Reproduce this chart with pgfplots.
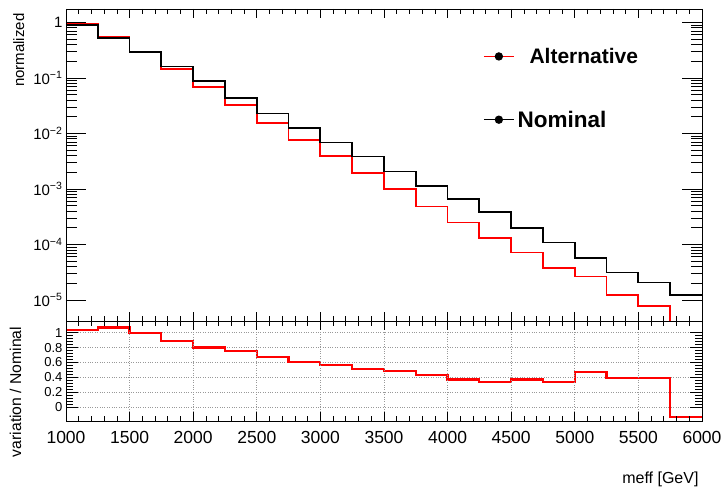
\documentclass[border=0pt]{standalone}
\usepackage{fontspec}
\setmainfont{Liberation Sans}
\usepackage{pgfplots}
\pgfplotsset{compat=1.18}
\pgfplotstableread{
x nom alt
1000 0.90 0.93
1250 0.52 0.556
1500 0.288 0.288
1750 0.161 0.143
2000 0.0865 0.0692
2250 0.0435 0.0326
2500 0.0229 0.0154
2750 0.0125 0.0076
3000 0.00689 0.00386
3250 0.00385 0.00196
3500 0.00207 0.00101
3750 0.00114 0.000484
4000 0.000658 0.000249
4250 0.000388 0.000132
4500 0.0002 0.000072
4750 0.000109 0.0000375
5000 0.0000569 0.0000265
5250 0.0000313 0.0000124
5500 0.0000207 0.00000786
5750 0.0000124 0.000000001
6000 0.0000124 0.000000001
}\histtable
\pgfplotstableread{
x ratio
1000 1.036
1250 1.07
1500 1.0
1750 0.89
2000 0.80
2250 0.75
2500 0.67
2750 0.61
3000 0.56
3250 0.51
3500 0.48
3750 0.43
4000 0.37
4250 0.34
4500 0.37
4750 0.34
5000 0.47
5250 0.39
5500 0.39
5750 -0.13
6000 -0.13
}\ratiotable
\begin{document}
\begin{tikzpicture}
\path[use as bounding box] (0pt,0pt) rectangle (724pt,489pt);
% top panel: y ticks and data
\begin{axis}[
  at={(66pt,168pt)}, anchor=south west,
  scale only axis, width=636pt, height=312pt,
  xmin=1000, xmax=6000, ymode=log, ymin=4.19e-6, ymax=1.74,
  tick align=inside, axis line style={line width=0.8pt},
  every tick/.style={black, line width=0.7pt},
  xtick=\empty,
  ytick={1e-5,1e-4,1e-3,1e-2,1e-1,1},
  yticklabels={10\textsuperscript{−5},10\textsuperscript{−4},10\textsuperscript{−3},10\textsuperscript{−2},10\textsuperscript{−1},1},
  yticklabel style={font=\fontsize{15}{18}\selectfont},
  major tick length=20pt, minor tick length=11pt,
  legend image code/.code={\draw[mark repeat=2,mark phase=2,#1] plot coordinates {(0pt,0pt) (15pt,0pt) (30pt,0pt)};},
  legend style={draw=none, fill=none, at={(rel axis cs:0.6557,0.885)}, anchor=north west,
    inner sep=0pt, row sep=40pt, nodes={inner sep=3pt},
    font=\bfseries\fontsize{21}{24}\selectfont},
  legend cell align=left,
]
\addlegendimage{red, line width=1.3pt, mark=*, mark size=3.5pt, mark options={black, fill=black}}
\addlegendentry{\hspace{12pt}Alternative}
\addlegendimage{black, line width=1.3pt, mark=*, mark size=3.5pt, mark options={black, fill=black}}
\addlegendentry{\fontsize{22.5}{24}\selectfont Nominal}
\addplot[const plot, red, line width=1.8pt, forget plot] table[x=x, y=alt] {\histtable};
\addplot[const plot, black, line width=1.8pt, forget plot] table[x=x, y=nom] {\histtable};
\end{axis}
% top panel: x ticks
\begin{axis}[
  at={(66pt,168pt)}, anchor=south west,
  scale only axis, width=636pt, height=312pt,
  xmin=1000, xmax=6000, ymin=0, ymax=1,
  tick align=inside, axis line style={line width=0.8pt},
  every tick/.style={black, line width=0.7pt},
  ytick=\empty,
  xtick={1000,1500,...,6000}, xticklabels={}, minor x tick num=4,
  major tick length=9pt, minor tick length=5pt,
]
\end{axis}
% ratio panel: y ticks, horizontal grid, data
\begin{axis}[
  at={(66pt,68pt)}, anchor=south west,
  scale only axis, width=636pt, height=100pt,
  xmin=1000, xmax=6000, ymin=-0.188, ymax=1.157,
  tick align=inside, axis line style={line width=0.8pt},
  every tick/.style={black, line width=0.7pt},
  /pgf/number format/assume math mode=true,
  major grid style={dotted, gray!80, line width=0.7pt},
  xtick=\empty,
  ytick={0,0.2,0.4,0.6,0.8,1}, minor y tick num=4,
  yticklabel style={font=\fontsize{13}{15}\selectfont},
  major tick length=12pt, minor tick length=7pt,
  ymajorgrids,
]
\addplot[const plot, red, line width=2.2pt] table[x=x, y=ratio] {\ratiotable};
\end{axis}
% ratio panel: x ticks, vertical grid
\begin{axis}[
  at={(66pt,68pt)}, anchor=south west,
  scale only axis, width=636pt, height=100pt,
  xmin=1000, xmax=6000, ymin=-0.188, ymax=1.157,
  tick align=inside, axis line style={line width=0.8pt},
  every tick/.style={black, line width=0.7pt},
  /pgf/number format/assume math mode=true,
  /pgf/number format/1000 sep={},
  major grid style={dotted, gray!80, line width=0.7pt},
  ytick=\empty,
  xtick={1000,1500,...,6000}, minor x tick num=4,
  xticklabel style={font=\fontsize{17.5}{20}\selectfont, yshift=-7pt},
  major tick length=9pt, minor tick length=5pt,
  xmajorgrids,
]
\end{axis}
\node[rotate=90, anchor=base east, font=\fontsize{15}{18}\selectfont] at (24pt,479pt) {normalized};
\node[rotate=90, anchor=base, font=\fontsize{15.7}{18}\selectfont] at (21pt,97pt) {variation / Nominal};
\node[anchor=base east, font=\fontsize{16}{18}\selectfont] at (702pt,5pt) {meff [GeV]};
\end{tikzpicture}
\end{document}
